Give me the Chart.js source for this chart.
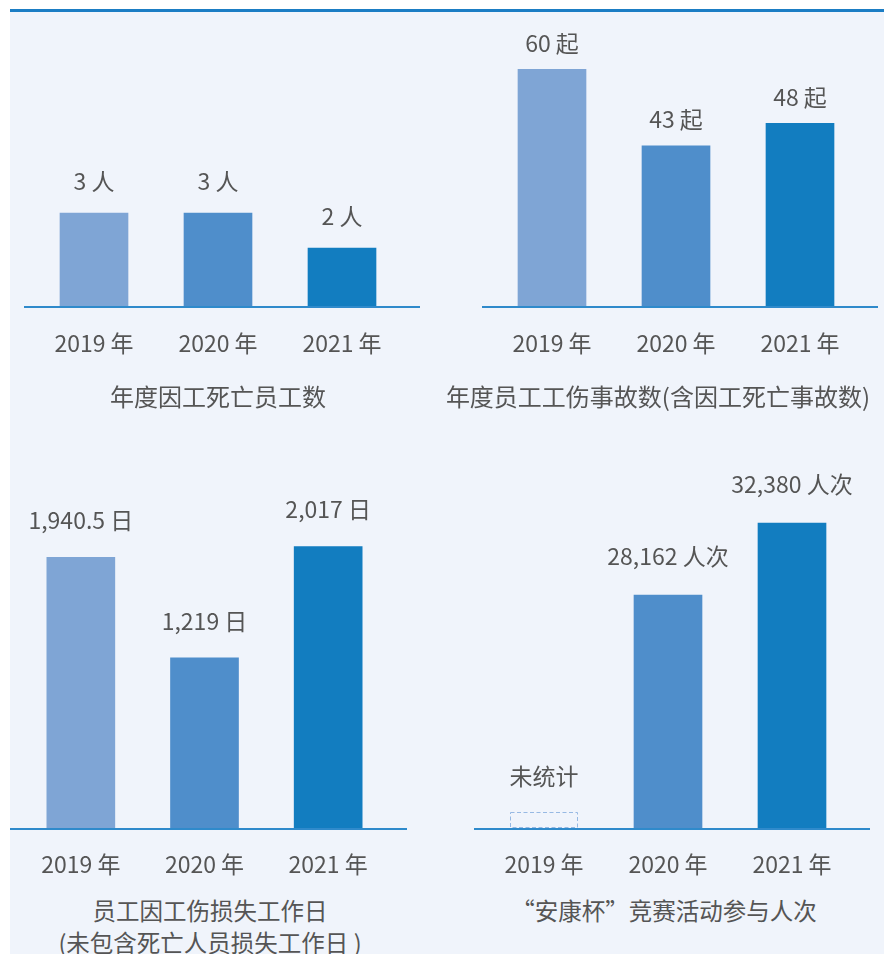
<!DOCTYPE html>
<html>
<head>
<meta charset="utf-8">
<script src="https://cdn.jsdelivr.net/npm/chart.js@4.4.0/dist/chart.umd.min.js"></script>
<style>
  html, body { margin: 0; padding: 0; background: #fff; width: 884px; height: 954px; overflow: hidden; }
  #panel { position: absolute; left: 10px; top: 9px; width: 874px; height: 945px; background: #f0f4fb; border-top: 3px solid #1b7dc4; box-sizing: border-box; }
  .box { position: absolute; }
  .ttl { position: absolute; width: 520px; text-align: center; color: #555; font-family: "Noto Sans CJK SC", "Noto Sans", sans-serif; line-height: 32px; white-space: nowrap; }
</style>
</head>
<body>
<div id="panel"></div>
<div class="box" style="left:0;top:0;width:442px;height:380px"><canvas id="c1"></canvas></div>
<div class="box" style="left:442px;top:0;width:442px;height:380px"><canvas id="c2"></canvas></div>
<div class="box" style="left:0;top:440px;width:442px;height:440px"><canvas id="c3"></canvas></div>
<div class="box" style="left:442px;top:440px;width:442px;height:440px"><canvas id="c4"></canvas></div>

<div class="ttl" style="left:-42px;top:380px;font-size:24px">年度因工死亡员工数</div>
<div class="ttl" style="left:398px;top:380px;font-size:24px">年度员工工伤事故数(含因工死亡事故数)</div>
<div class="ttl" style="left:-50px;top:894px;font-size:23.5px">员工因工伤损失工作日<br>(未包含死亡人员损失工作日 )</div>
<div class="ttl" style="left:404px;top:894px;font-size:23.5px">“安康杯”竞赛活动参与人次</div>

<script>
const years = ['2019 年', '2020 年', '2021 年'];
const deaths = [3, 3, 2];
const injuries = [60, 43, 48];
const lostDays = [1940.5, 1219, 2017];
const contest = [null, 28162, 32380];
const barColors = ['#7fa5d5', '#4f8ecb', '#127dc0'];

const FONT = '"Noto Sans CJK SC", "Noto Sans", sans-serif';
Chart.defaults.font.family = FONT;
Chart.defaults.color = '#555';

// baseline, value labels and the empty placeholder
const decor = {
  id: 'decor',
  afterDatasetsDraw(chart, args, opts) {
    const { ctx, chartArea: a, scales: { x } } = chart;
    const meta = chart.getDatasetMeta(0);
    ctx.save();
    ctx.strokeStyle = '#2f8acb';
    ctx.lineWidth = 2;
    ctx.beginPath();
    ctx.moveTo(a.left - opts.extL, a.bottom + 1);
    ctx.lineTo(a.right + opts.extR, a.bottom + 1);
    ctx.stroke();

    ctx.font = '23px ' + FONT;
    ctx.fillStyle = '#555';
    ctx.textAlign = 'center';
    ctx.textBaseline = 'middle';
    chart.data.datasets[0].data.forEach((v, i) => {
      const cx = x.getPixelForValue(i);
      if (v == null) {
        ctx.setLineDash([4, 2.5]);
        ctx.strokeStyle = '#97b9e3';
        ctx.lineWidth = 1;
        ctx.strokeRect(cx - 33.5, a.bottom - 15.5, 67, 15);
        ctx.setLineDash([]);
        ctx.fillText('未统计', cx, a.bottom - 52);
      } else {
        ctx.fillText(v.toLocaleString('en-US') + ' ' + opts.unit, cx, meta.data[i].y - opts.gap);
      }
    });
    ctx.restore();
  }
};

function makeChart(id, values, cfg) {
  return new Chart(document.getElementById(id), {
    type: 'bar',
    data: {
      labels: years,
      datasets: [{ data: values, backgroundColor: barColors, barThickness: 68 }]
    },
    options: {
      responsive: true,
      maintainAspectRatio: false,
      animation: false,
      layout: { padding: cfg.pad },
      plugins: {
        legend: { display: false },
        tooltip: { enabled: false },
        decor: { unit: cfg.unit, gap: cfg.gap, extL: cfg.extL, extR: cfg.extR }
      },
      scales: {
        x: {
          grid: { display: false, drawTicks: false },
          border: { display: false },
          ticks: { color: '#555', font: { size: 23 }, padding: cfg.tickPad },
          afterFit(s) { s.height = cfg.axisH; }
        },
        y: { display: false, min: cfg.min, max: cfg.max }
      }
    },
    plugins: [decor]
  });
}

makeChart('c1', deaths, { unit: '人', gap: 32, extL: 8, extR: 16, min: 0.34, max: 8.52,
  pad: { top: 20, left: 32, right: 38, bottom: 0 }, axisH: 74, tickPad: 23 });
makeChart('c2', injuries, { unit: '起', gap: 26, extL: 8, extR: 16, min: 7.3, max: 71,
  pad: { top: 20, left: 48, right: 22, bottom: 0 }, axisH: 74, tickPad: 23 });
makeChart('c3', lostDays, { unit: '日', gap: 37, extL: 9, extR: 17, min: 0, max: 2638,
  pad: { top: 20, left: 19, right: 52, bottom: 0 }, axisH: 52, tickPad: 22 });
makeChart('c4', contest, { unit: '人次', gap: 39, extL: 8, extR: 16, min: 14512, max: 36070,
  pad: { top: 20, left: 40, right: 30, bottom: 0 }, axisH: 52, tickPad: 22 });
</script>
</body>
</html>
